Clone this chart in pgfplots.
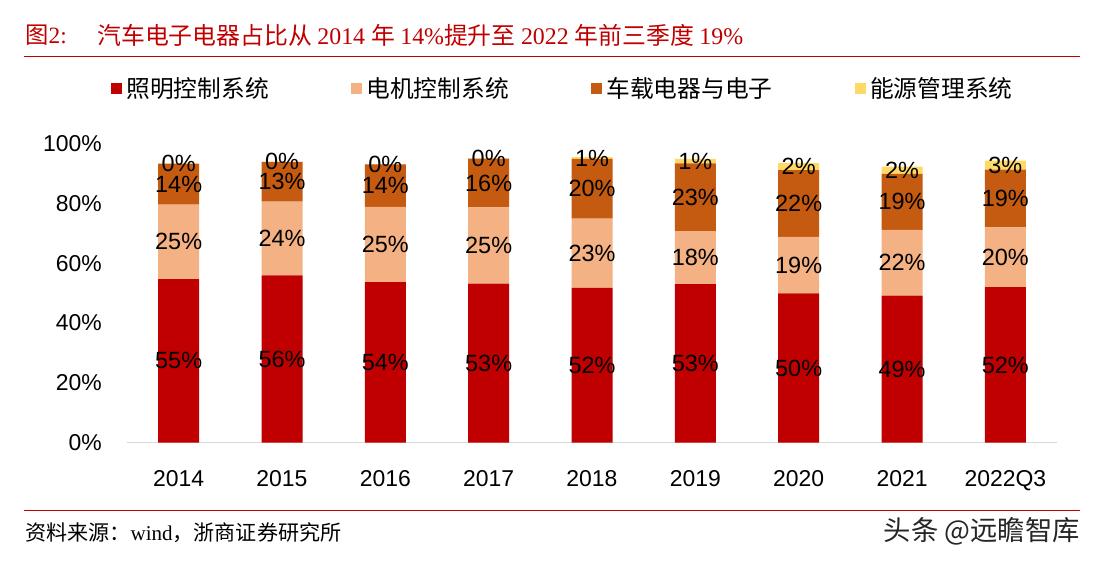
\documentclass[border=0pt]{standalone}
\usepackage{fontspec}
\setmainfont{Liberation Sans}
\newfontfamily\cjk{Noto Sans CJK SC}
\newfontfamily\tnr{Liberation Serif}
\usepackage{pgfplots}
\pgfplotsset{compat=1.18}
\usepackage{pgfplotstable}
\definecolor{cRed}{HTML}{C00000}
\definecolor{cLight}{HTML}{F4B183}
\definecolor{cDark}{HTML}{C55A11}
\definecolor{cYel}{HTML}{FFD966}
\definecolor{cAxis}{HTML}{D9D9D9}
\pgfplotsset{mysq/.style={legend image code/.code={\fill[##1] (0pt,-4.1pt) rectangle (8.2pt,4.1pt);}}}
\pgfplotstableread{
x red redl light lightl dark darkl yel yell
0 54.7 55 24.9 25 13.7 14 0.05 0
1 56.0 56 24.6 24 13.3 13 0.05 0
2 53.7 54 25.2 25 14.2 14 0.05 0
3 53.2 53 25.5 25 16.3 16 0.05 0
4 51.8 52 23.1 23 20.0 20 0.6 1
5 53.0 53 17.8 18 22.6 23 1.5 1
6 49.9 50 18.9 19 22.4 22 2.3 2
7 49.2 49 22.0 22 18.7 19 2.4 2
8 52.0 52 20.0 20 19.3 19 3.0 3
}\datatable
\begin{document}
\begin{tikzpicture}
\useasboundingbox (0,0) rectangle (820.5pt,420pt);
\begin{axis}[
  at={(95.25pt,87.975pt)}, anchor=south west,
  scale only axis, width=697.5pt, height=224.25pt,
  ybar stacked, bar width=30.75pt,
  xmin=-0.5, xmax=8.5, ymin=0, ymax=100,
  xtick={0,1,2,3,4,5,6,7,8},
  xticklabels={2014,2015,2016,2017,2018,2019,2020,2021,2022Q3},
  ytick={0,20,40,60,80,100},
  yticklabels={0\%,20\%,40\%,60\%,80\%,100\%},
  axis x line*=bottom, axis y line*=left,
  y axis line style={draw=none},
  x axis line style={draw=cAxis, line width=1pt},
  major tick length=0pt, tick style={draw=none},
  tick label style={font=\fontsize{17.2}{20}\selectfont},
  yticklabel style={xshift=-15.3pt},
  xticklabel style={yshift=-17.6pt},
  clip=false,
  point meta=explicit symbolic,
  nodes near coords={\pgfplotspointmeta\%},
  every node near coord/.append style={font=\fontsize{17.6}{20}\selectfont, text=black, anchor=center, inner sep=0pt},
  legend columns=4,
  legend cell align=left,
  legend style={at={(-0.017,1.186)}, anchor=west, draw=none, fill=none, inner sep=0pt,
    font=\cjk\fontsize{17.8}{20}\selectfont,
    nodes={inner xsep=3pt, inner ysep=0pt},
    /tikz/every even column/.append style={column sep=59pt}},
]
\addplot[fill=cRed, draw=none, mysq] table[x=x, y=red, meta=redl] {\datatable};
\addlegendentry{照明控制系统}
\addplot[fill=cLight, draw=none, mysq] table[x=x, y=light, meta=lightl] {\datatable};
\addlegendentry{电机控制系统}
\addplot[fill=cDark, draw=none, mysq] table[x=x, y=dark, meta=darkl] {\datatable};
\addlegendentry{车载电器与电子}
\addplot[fill=cYel, draw=none, mysq] table[x=x, y=yel, meta=yell] {\datatable};
\addlegendentry{能源管理系统}
\end{axis}
\begin{scope}[x=0.75pt, y=-0.75pt, yshift=420pt]
\node[anchor=west, inner sep=0pt, text=cRed] at (25,35) {\fontsize{17.5}{20}\selectfont\cjk 图\tnr 2:};
\node[anchor=west, inner sep=0pt, text=cRed] at (97,35) {\fontsize{17.9}{20}\selectfont\cjk 汽车电子电器占比从 \tnr 2014 \cjk 年 \tnr 14\%\cjk 提升至 \tnr 2022 \cjk 年前三季度 \tnr 19\%};
\draw[cRed, line width=1.1pt] (24,56.7) -- (1080,56.7);
\draw[cRed, line width=1.1pt] (24,510.7) -- (1080,510.7);
\node[anchor=west, inner sep=0pt] at (25,533) {\fontsize{15.8}{18}\selectfont\cjk 资料来源：\tnr wind\cjk ，浙商证券研究所};
\node[anchor=east, inner sep=0pt, text=black!85] at (1080,531) {\fontsize{20.5}{24}\selectfont\cjk 头条 @远瞻智库};
\end{scope}
\end{tikzpicture}
\end{document}
